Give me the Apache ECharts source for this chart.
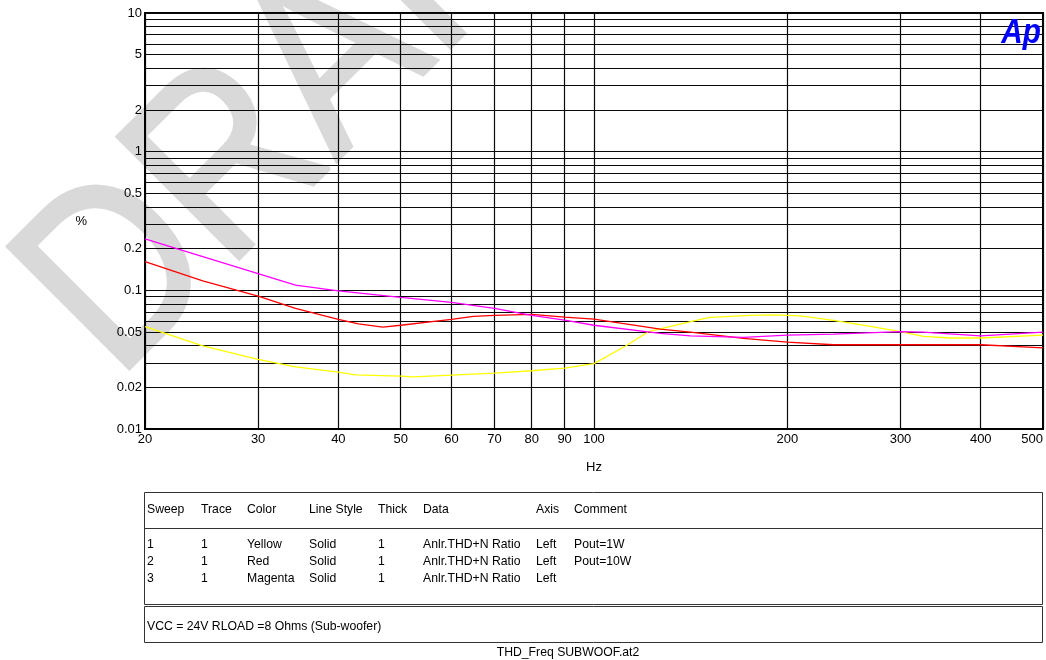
<!DOCTYPE html>
<html>
<head>
<meta charset="utf-8">
<title>THD+N vs Frequency</title>
<script src="https://cdn.jsdelivr.net/npm/echarts@6/dist/echarts.min.js"></script>
<style>
  html, body { margin: 0; padding: 0; background: #fff; }
  #chart { width: 1046px; height: 660px; }
</style>
</head>
<body>
<div id="chart"></div>
<script>
// Frequency axis (Hz): labelled grid positions
const xTicks = [20, 30, 40, 50, 60, 70, 80, 90, 100, 200, 300, 400, 500];
// THD+N axis (%): labelled values and all decade grid lines
const yLabels = [0.01, 0.02, 0.05, 0.1, 0.2, 0.5, 1, 2, 5, 10];
const yGrid = [0.01, 0.02, 0.03, 0.04, 0.05, 0.06, 0.07, 0.08, 0.09,
               0.1, 0.2, 0.3, 0.4, 0.5, 0.6, 0.7, 0.8, 0.9,
               1, 2, 3, 4, 5, 6, 7, 8, 9, 10];

// Sweep 1 (yellow) – Pout = 1 W
const yellowFreq = [20, 24.6, 30, 34.3, 40, 42.5, 50, 52.3, 60, 70, 80, 90, 100, 112, 121.5, 146.4, 151.7, 175.4, 189, 200, 209.6, 236, 266.6, 300, 325.6, 358.9, 400, 500];
const yellowThd  = [0.0548, 0.0397, 0.0318, 0.0281, 0.0257, 0.0246, 0.0241, 0.0238, 0.0245, 0.0253, 0.0263, 0.0275, 0.0296, 0.0397, 0.0503, 0.0618, 0.0638, 0.066, 0.0666, 0.066, 0.0654, 0.0607, 0.0555, 0.0503, 0.0465, 0.0453, 0.0453, 0.0475];

// Sweep 2 (red) – Pout = 10 W
const redFreq = [20, 24.6, 30, 34.3, 40, 43, 46.9, 50, 60, 64.9, 70, 80, 90, 100, 126.8, 141.3, 170.8, 200, 236, 300, 400, 500];
const redThd  = [0.161, 0.117, 0.091, 0.074, 0.0618, 0.0573, 0.0543, 0.056, 0.0618, 0.065, 0.066, 0.067, 0.064, 0.062, 0.0525, 0.050, 0.045, 0.0423, 0.0405, 0.0405, 0.0405, 0.0384];

// Sweep 3 (magenta)
const magentaFreq = [20, 24.6, 30, 34.3, 40, 50, 60, 70, 80, 90, 100, 126.8, 141.3, 170.8, 200, 236, 300, 325, 400, 500];
const magentaThd  = [0.235, 0.175, 0.132, 0.109, 0.099, 0.089, 0.082, 0.074, 0.066, 0.061, 0.056, 0.049, 0.047, 0.0458, 0.0475, 0.0483, 0.0504, 0.050, 0.047, 0.050];

// Sweep legend table
const tableHeader = ['Sweep', 'Trace', 'Color', 'Line Style', 'Thick', 'Data', 'Axis', 'Comment'];
const tableRows = [
  ['1', '1', 'Yellow',  'Solid', '1', 'Anlr.THD+N Ratio', 'Left', 'Pout=1W'],
  ['2', '1', 'Red',     'Solid', '1', 'Anlr.THD+N Ratio', 'Left', 'Pout=10W'],
  ['3', '1', 'Magenta', 'Solid', '1', 'Anlr.THD+N Ratio', 'Left', '']
];
const noteText = 'VCC = 24V RLOAD =8 Ohms (Sub-woofer)';
const fileText = 'THD_Freq SUBWOOF.at2';

const FONT = '"Liberation Sans", Arial, sans-serif';

function pairs(fs, vs) { return fs.map((f, i) => [f, vs[i]]); }
function fmt(v) { return String(parseFloat(Number(v).toPrecision(3))); }

function label(text, x, y, align) {
  return {
    type: 'text', x: x, y: y, scaleX: 0.94, z: 10,
    style: { text: text, font: '13px ' + FONT, fill: '#000', align: align || 'left', verticalAlign: 'middle' }
  };
}

// table text elements
const colX = [147, 201, 247, 309, 378, 423, 536, 574];
const rowY = [544, 561, 578];
const tableTexts = [];
tableHeader.forEach((t, i) => tableTexts.push(label(t, colX[i], 509)));
tableRows.forEach((row, r) => row.forEach((t, i) => tableTexts.push(label(t, colX[i], rowY[r]))));

const chart = echarts.init(document.getElementById('chart'), null, { renderer: 'canvas' });

chart.setOption({
  animation: false,
  grid: {
    left: 145, right: 3, top: 13, bottom: 231,
    outerBoundsMode: 'none', containLabel: false,
    show: true, borderColor: '#000', borderWidth: 2, backgroundColor: 'transparent'
  },
  xAxis: {
    type: 'log', logBase: 10, min: 20, max: 500,
    name: 'Hz', nameLocation: 'middle', nameGap: 32,
    nameTextStyle: { color: '#000', fontSize: 13, fontFamily: FONT },
    axisLine: { show: true, lineStyle: { color: '#000', width: 2 } },
    axisTick: { show: false, customValues: xTicks },
    axisLabel: { customValues: xTicks, color: '#000', fontSize: 13, fontFamily: FONT, margin: 4,
                 formatter: fmt, hideOverlap: false, alignMaxLabel: 'right' },
    splitLine: { show: true, lineStyle: { color: '#0a0a0a', width: 1.2 } },
    minorTick: { show: false }, minorSplitLine: { show: false }
  },
  yAxis: {
    type: 'log', logBase: 10, min: 0.01, max: 10,
    name: '%', nameLocation: 'middle', nameRotate: 0, nameGap: 58,
    nameTextStyle: { color: '#000', fontSize: 13, fontFamily: FONT },
    axisLine: { show: true, lineStyle: { color: '#000', width: 2 } },
    axisTick: { show: false, customValues: yGrid },
    axisLabel: { customValues: yLabels, color: '#000', fontSize: 13, fontFamily: FONT, margin: 3, formatter: fmt, hideOverlap: false },
    splitLine: { show: true, lineStyle: { color: '#0a0a0a', width: 1.2 } },
    minorTick: { show: false }, minorSplitLine: { show: false }
  },
  series: [
    { name: 'Yellow', type: 'line', data: pairs(yellowFreq, yellowThd), showSymbol: false, smooth: false,
      lineStyle: { color: '#ffff00', width: 1.3 }, itemStyle: { color: '#ffff00' }, z: 3 },
    { name: 'Red', type: 'line', data: pairs(redFreq, redThd), showSymbol: false, smooth: false,
      lineStyle: { color: '#ff0000', width: 1.3 }, itemStyle: { color: '#ff0000' }, z: 4 },
    { name: 'Magenta', type: 'line', data: pairs(magentaFreq, magentaThd), showSymbol: false, smooth: false,
      lineStyle: { color: '#ff00ff', width: 1.3 }, itemStyle: { color: '#ff00ff' }, z: 5 }
  ],
  graphic: [
    // DRAFT watermark behind the grid
    {
      type: 'text', x: 68, y: 332, rotation: Math.PI / 4, scaleX: 0.86, z: -10, silent: true,
      style: { text: 'DRAFT', font: '250px ' + FONT, fill: '#d9d9d9', stroke: '#d9d9d9', lineWidth: 4,
               align: 'left', verticalAlign: 'middle' }
    },
    // Ap logo
    {
      type: 'text', x: 1041, y: 33, scaleX: 0.85, z: 10,
      style: { text: 'Ap', font: 'italic bold 35px ' + FONT, fill: '#0000ff', align: 'right', verticalAlign: 'middle' }
    },
    // sweep table frames
    { type: 'rect', z: 10, shape: { x: 144.5, y: 492.5, width: 898, height: 112 },
      style: { fill: 'none', stroke: '#333', lineWidth: 1 } },
    { type: 'line', z: 10, shape: { x1: 145, y1: 528.5, x2: 1043, y2: 528.5 },
      style: { stroke: '#333', lineWidth: 1 } },
    { type: 'rect', z: 10, shape: { x: 144.5, y: 606.5, width: 898, height: 36 },
      style: { fill: 'none', stroke: '#333', lineWidth: 1 } },
    label(noteText, 147, 626),
    label(fileText, 568, 652, 'center')
  ].concat(tableTexts)
});
</script>
</body>
</html>
